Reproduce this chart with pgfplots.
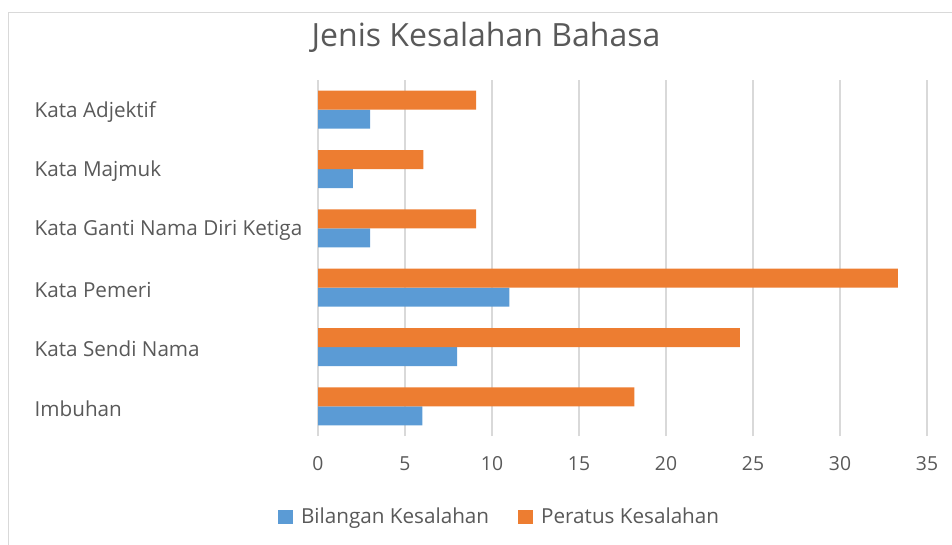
\documentclass[border=0pt]{standalone}
\usepackage{pgfplots}
\pgfplotsset{compat=1.18}
\usepackage{fontspec}
\setmainfont{Open Sans}
\definecolor{txt}{HTML}{595959}
\definecolor{bblue}{HTML}{5B9BD5}
\definecolor{borange}{HTML}{ED7D31}
\definecolor{gridc}{HTML}{D9D9D9}
\definecolor{framec}{HTML}{D9D9D9}
\begin{document}
\begin{tikzpicture}[x=0.75pt,y=0.75pt]
\useasboundingbox (0,0) rectangle (952,544);
\draw[framec, line width=0.9pt] (8.5,-20) -- (8.5,531.5) -- (970,531.5);
\node[txt, font=\fontsize{24}{28}\selectfont, anchor=base] at (486,{544-46}) {Jenis Kesalahan Bahasa};
\begin{axis}[
  at={(238.5pt,81pt)}, anchor=south west,
  scale only axis,
  width=456.75pt, height=267pt,
  xmin=0, xmax=35,
  ymin=-0.5, ymax=5.5,
  xbar,
  bar width=14.25pt,
  xtick={0,5,...,35},
  ytick={0,1,2,3,4,5},
  yticklabels={Imbuhan,Kata Sendi Nama,Kata Pemeri,Kata Ganti Nama Diri Ketiga,Kata Majmuk,Kata Adjektif},
  axis line style={draw=none},
  major tick length=0pt,
  xmajorgrids,
  grid style={gridc, line width=1pt},
  tick label style={txt, font=\fontsize{14.5}{17}\selectfont},
  /pgf/number format/assume math mode=true,
  yticklabel style={anchor=west, xshift={-(318-30)*0.75pt}, yshift=-1.5pt, font=\fontsize{15.5}{18}\selectfont},
  xticklabel style={yshift=-12pt},
  legend style={at={(0.299,-0.2275)}, anchor=center, draw=none, legend columns=2,
    font=\fontsize{15.5}{18}\selectfont, text=txt,
    /tikz/every even column/.append style={column sep=20pt}},
  legend image code/.code={\fill[#1] (0pt,-5.6pt) rectangle (11.25pt,5.6pt); \path (15pt,0pt);},
]
\addplot[fill=bblue, draw=none, bar shift=-7.125pt] coordinates {(6,0) (8,1) (11,2) (3,3) (2,4) (3,5)};
\addlegendentry{Bilangan Kesalahan}
\addplot[fill=borange, draw=none, bar shift=7.125pt] coordinates {(18.18,0) (24.24,1) (33.33,2) (9.09,3) (6.06,4) (9.09,5)};
\addlegendentry{Peratus Kesalahan}
\end{axis}
\end{tikzpicture}
\end{document}
